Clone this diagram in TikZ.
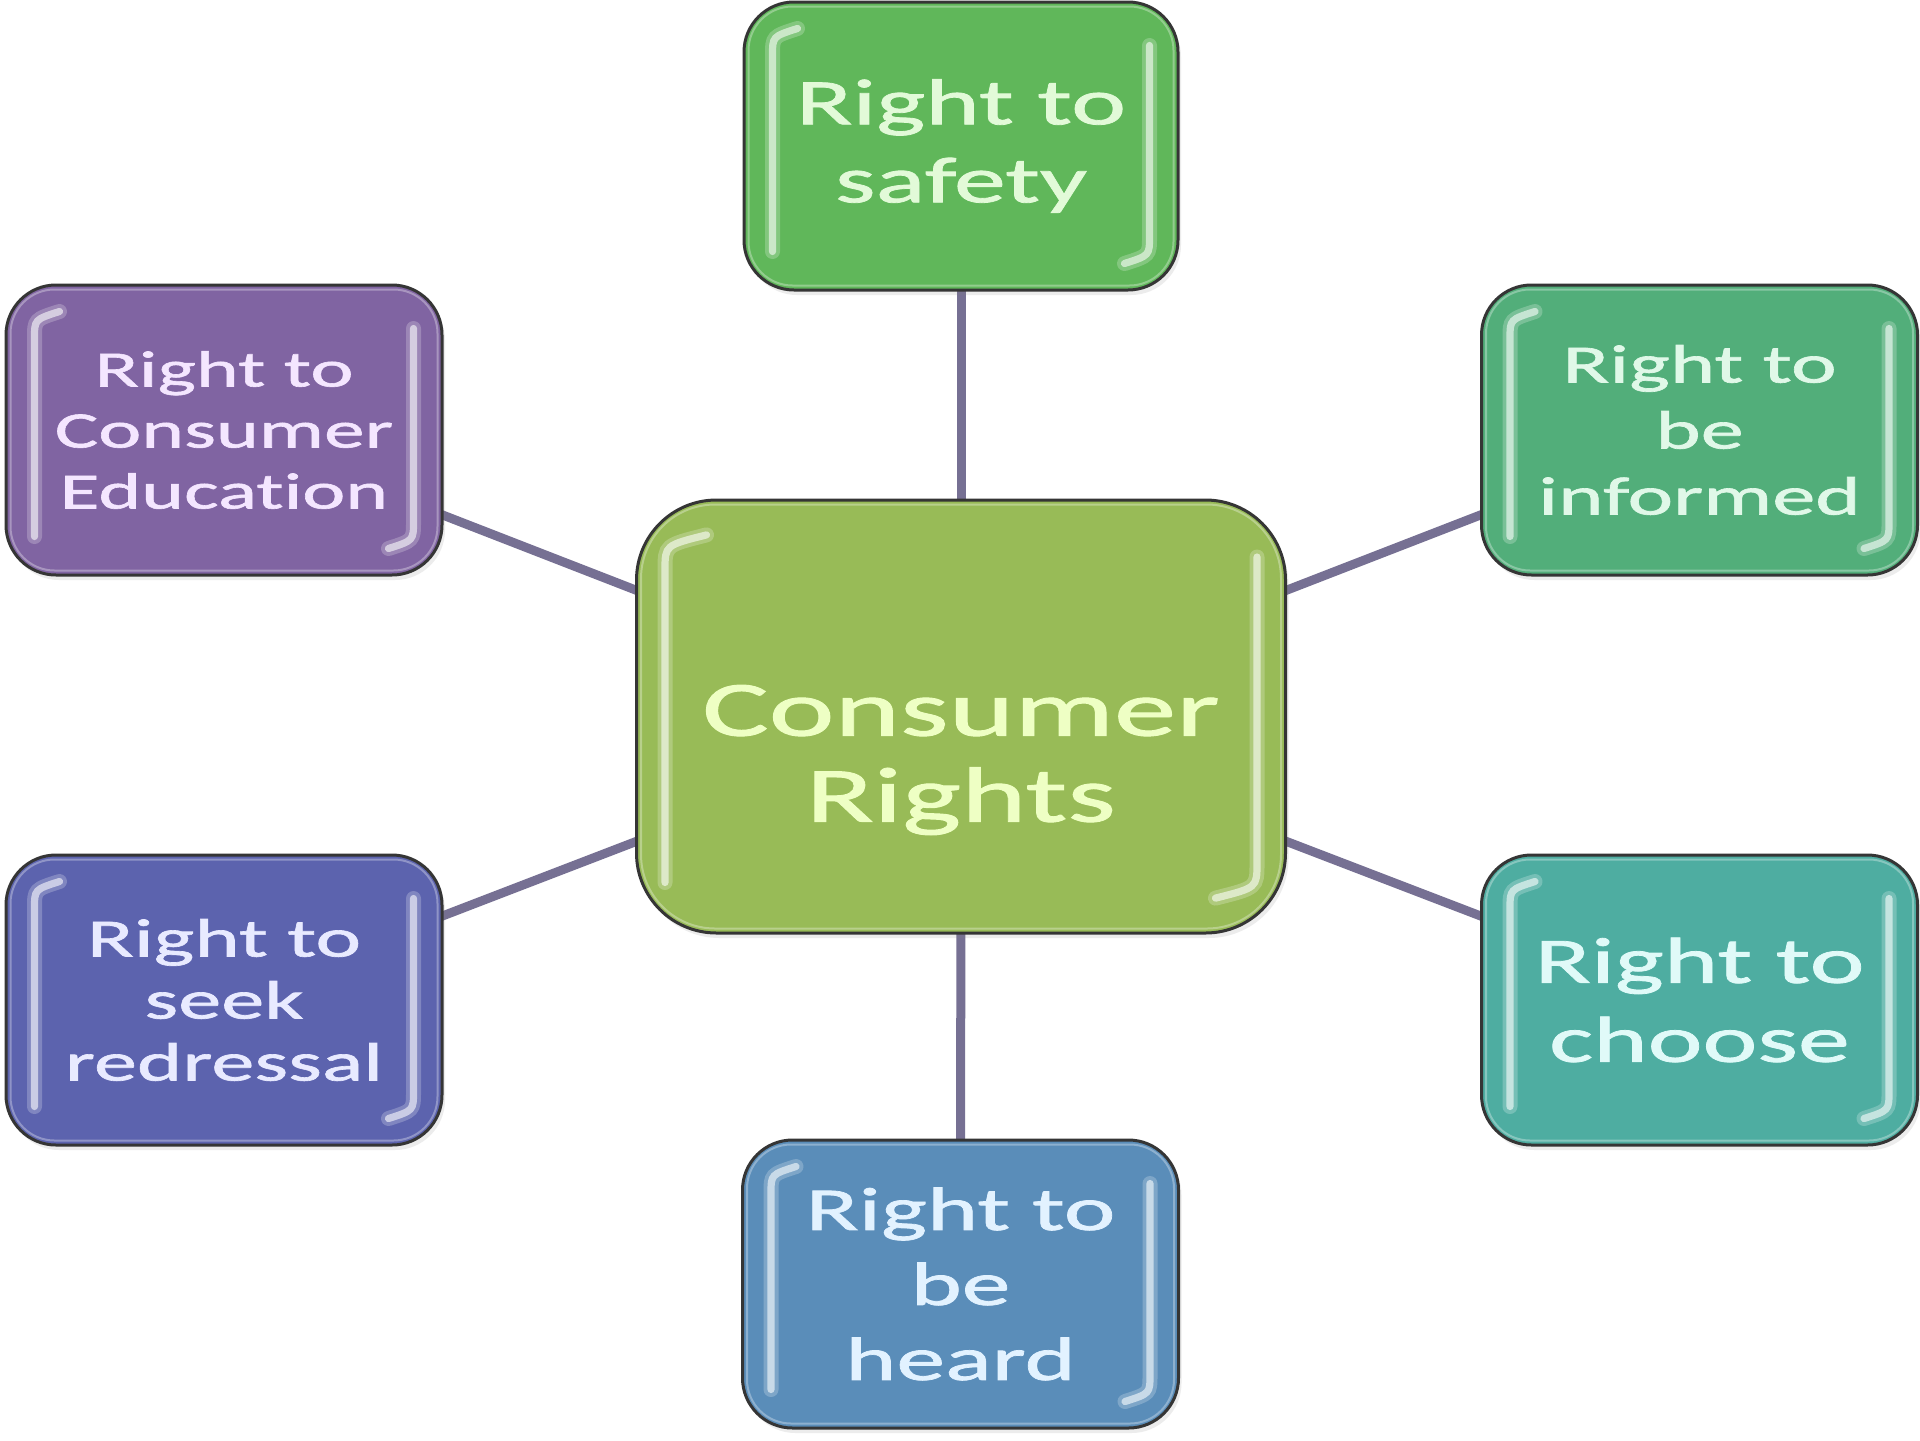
\documentclass[tikz,border=0pt]{standalone}
\usepackage{fontspec}
\setmainfont[FakeStretch=1.6,FakeBold=1.2,Ligatures=NoCommon]{Carlito}
\usetikzlibrary{calc,shadows,backgrounds}
\definecolor{cgreen}{HTML}{98BB57}
\definecolor{sgreen}{HTML}{60B75A}
\definecolor{igreen}{HTML}{52AE7A}
\definecolor{cteal}{HTML}{4EADA1}
\definecolor{hblue}{HTML}{5A8DB9}
\definecolor{rblue}{HTML}{5C63AE}
\definecolor{epurple}{HTML}{8064A2}
\definecolor{coreT}{HTML}{EEFFC4}
\definecolor{sgreenT}{HTML}{E2FAD8}
\definecolor{igreenT}{HTML}{E0F8E8}
\definecolor{ctealT}{HTML}{E0FAF8}
\definecolor{hblueT}{HTML}{E2F2FF}
\definecolor{rblueT}{HTML}{E8EAFF}
\definecolor{epurpleT}{HTML}{F4E6FF}
\definecolor{outl}{HTML}{353535}
\definecolor{conn}{HTML}{767093}
\newcommand\glossbox[4]{% name, colour, scale, corner radius
  \draw[line width=1pt, draw=white!45!#2, opacity=0.7, rounded corners=#4]
    ($(#1.north west)+(6,6)$) rectangle ($(#1.south east)+(-6,-6)$);
  \foreach \w/\o/\m in {7.5/0.45/50, 3.6/0.95/70} {
    \draw[line width=\w pt, draw=white!\m!#2, opacity=\o, line cap=round]
      ($(#1.south west)+(30,-40*#3)$) -- ($(#1.north west)+(30,55*#3)$)
      .. controls ($(#1.north west)+(30,36*#3)$) .. ($(#1.north west)+(55*#3,28*#3)$);
    \draw[line width=\w pt, draw=white!\m!#2, opacity=\o, line cap=round]
      ($(#1.north east)+(-30,45*#3)$) -- ($(#1.south east)+(-30,-55*#3)$)
      .. controls ($(#1.south east)+(-30,-36*#3)$) .. ($(#1.south east)+(-55*#3,-28*#3)$);
  }
}
\begin{document}
\begin{tikzpicture}[x=0.5pt,y=-0.5pt,
  rbox/.style={draw=outl, line width=1.5pt, rounded corners=25pt,
    minimum width=218pt, minimum height=145pt, align=center, inner sep=0pt,
    drop shadow={opacity=0.15, shadow xshift=1.5pt, shadow yshift=-2.5pt}},
  link/.style={draw=conn, line width=4.5pt},
  ]
\useasboundingbox (0,0) rectangle (1920,1440);

\node[rbox, fill=cgreen, minimum width=324.5pt, minimum height=216.5pt,
  rounded corners=40pt] (core) at (961,716.5) {};
\node[rbox, fill=sgreen, text=sgreenT, minimum width=217pt, minimum height=144pt,
  font=\fontsize{32.5pt}{39pt}\selectfont] (safety) at (961,146) {Right to\\safety};
\node[rbox, fill=epurple, text=epurpleT,
  font=\fontsize{25.5pt}{30.5pt}\selectfont] (educ) at (224,430) {Right to\\Consumer\\Education};
\node[rbox, fill=igreen, text=igreenT,
  font=\fontsize{27pt}{33pt}\selectfont] (inform) at (1699.5,430) {Right to\\be\\informed};
\node[rbox, fill=rblue, text=rblueT,
  font=\fontsize{27pt}{31pt}\selectfont] (redress) at (224,1000) {Right to\\seek\\redressal};
\node[rbox, fill=cteal, text=ctealT,
  font=\fontsize{32.5pt}{39.5pt}\selectfont] (choose) at (1699.5,1000) {Right to\\choose};
\node[rbox, fill=hblue, text=hblueT, minimum height=144pt,
  font=\fontsize{30.5pt}{37.5pt}\selectfont] (heard) at (960.5,1284) {Right to\\be\\heard};

\glossbox{core}{cgreen}{1.3}{37pt}
\glossbox{safety}{sgreen}{1}{22pt}
\glossbox{educ}{epurple}{1}{22pt}
\glossbox{inform}{igreen}{1}{22pt}
\glossbox{redress}{rblue}{1}{22pt}
\glossbox{choose}{cteal}{1}{22pt}
\glossbox{heard}{hblue}{1}{22pt}

\node[align=center, text=coreT, inner sep=0pt,
  font=\fontsize{39pt}{43pt}\selectfont] (coretext) at (961,760) {Consumer\\Rights};

\begin{pgfonlayer}{background}
\fill[white] (0,0) rectangle (1920,1440);
\draw[link] (core.center) -- (safety.center);
\draw[link] (core.center) -- (heard.center);
\draw[link] (core.center) -- (educ.center);
\draw[link] (core.center) -- (inform.center);
\draw[link] (core.center) -- (redress.center);
\draw[link] (core.center) -- (choose.center);
\end{pgfonlayer}
\end{tikzpicture}
\end{document}
